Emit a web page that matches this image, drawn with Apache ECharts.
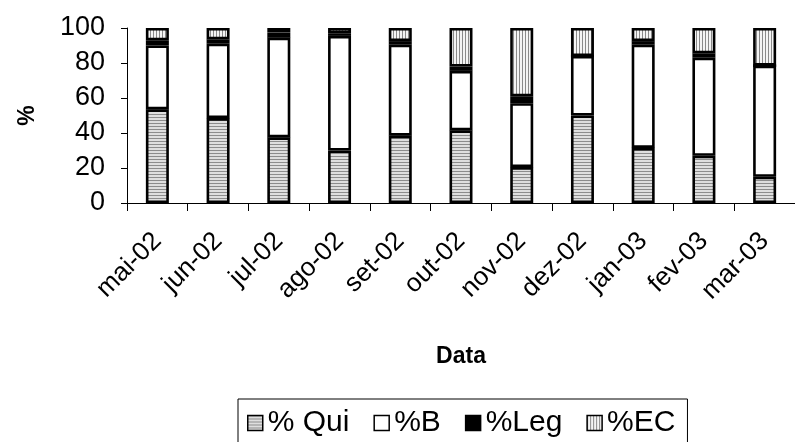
<!DOCTYPE html>
<html>
<head>
<meta charset="utf-8">
<script src="https://cdn.jsdelivr.net/npm/echarts@6/dist/echarts.min.js"></script>
<style>
  html, body { margin: 0; padding: 0; background: #fff; }
  #chart { width: 795px; height: 442px; }
</style>
</head>
<body>
<div id="chart"></div>
<script>
// Monthly composition (%) of each sample
const categories = ['mai-02', 'jun-02', 'jul-02', 'ago-02', 'set-02', 'out-02',
                    'nov-02', 'dez-02', 'jan-03', 'fev-03', 'mar-03'];
const qui = [53.5, 48.5, 37.5, 30, 38.5, 41.5, 20.5, 50, 31.5, 27, 15];
const b   = [36.5, 42.5, 57, 65.5, 52, 34, 36.5, 34, 59, 56, 63.5];
const leg = [3, 2.5, 3, 1.5, 2, 2.5, 4, 0, 2, 2.5, 0];
const ec  = [7, 6.5, 2.5, 3, 7.5, 22, 39, 16, 7.5, 14.5, 21.5];
const yTicks = [0, 20, 40, 60, 80, 100];

const FONT = "'Liberation Sans', Arial, sans-serif";

// Hatch fills: horizontal lines for % Qui, vertical lines for %EC
function hatch(vertical) {
  const c = document.createElement('canvas');
  c.width = 3; c.height = 3;
  const g = c.getContext('2d');
  g.fillStyle = vertical ? '#f4f4f4' : '#dedede';
  g.fillRect(0, 0, 3, 3);
  g.fillStyle = vertical ? '#8a8a8a' : '#8c8c8c';
  if (vertical) g.fillRect(0, 0, 1, 3);
  else g.fillRect(0, 0, 3, 1);
  return { image: c, repeat: 'repeat' };
}

const border = { borderColor: '#000', borderWidth: 2.6 };

function bar(name, data, color) {
  return {
    name: name,
    type: 'bar',
    stack: 'total',
    barWidth: 23,
    data: data,
    itemStyle: Object.assign({ color: color }, border),
    emphasis: { disabled: true }
  };
}

const chart = echarts.init(document.getElementById('chart'), null, { renderer: 'canvas' });
chart.setOption({
  animation: false,
  backgroundColor: '#fff',
  grid: { left: 127, top: 28, width: 681, height: 175, containLabel: false },
  xAxis: {
    type: 'category',
    data: categories,
    name: 'Data',
    nameLocation: 'middle',
    nameGap: 142,
    nameTextStyle: { fontFamily: FONT, fontSize: 23, fontWeight: 'bold', color: '#000' },
    axisLine: { lineStyle: { color: '#000', width: 1 } },
    axisTick: { show: true, length: 8, lineStyle: { color: '#000' } },
    axisLabel: {
      rotate: 45,
      interval: 0,
      margin: 34,
      fontFamily: FONT,
      fontSize: 26,
      color: '#000'
    }
  },
  yAxis: {
    type: 'value',
    min: yTicks[0],
    max: yTicks[yTicks.length - 1],
    interval: 20,
    name: '%',
    nameLocation: 'middle',
    nameGap: 88,
    nameRotate: 90,
    nameTextStyle: { fontFamily: FONT, fontSize: 23, fontWeight: 'bold', color: '#000' },
    axisLine: { show: true, lineStyle: { color: '#000', width: 1 } },
    axisTick: { show: true, length: 6, lineStyle: { color: '#000' } },
    splitLine: { show: false },
    axisLabel: { margin: 22, fontFamily: FONT, fontSize: 27, color: '#000' }
  },
  legend: {
    left: 238,
    top: 399,
    orient: 'horizontal',
    borderColor: '#000',
    borderWidth: 1,
    padding: [9, 12, 24, 9],
    itemWidth: 15,
    itemHeight: 15,
    itemGap: 24,
    icon: 'rect',
    itemStyle: { borderColor: '#000', borderWidth: 1.5 },
    textStyle: { fontFamily: FONT, fontSize: 30, color: '#000' },
    data: ['% Qui', '%B', '%Leg', '%EC']
  },
  series: [
    bar('% Qui', qui, hatch(false)),
    bar('%B', b, '#ffffff'),
    bar('%Leg', leg, '#000000'),
    bar('%EC', ec, hatch(true))
  ]
});
</script>
</body>
</html>
